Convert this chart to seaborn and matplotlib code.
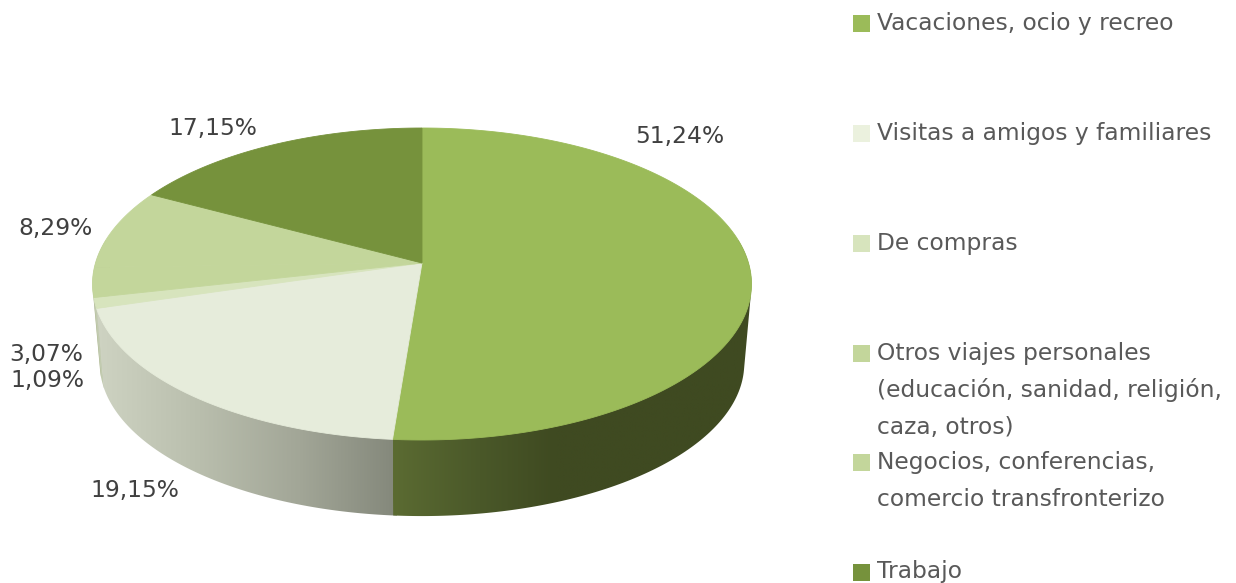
import numpy as np
import matplotlib
matplotlib.use("Agg")
import matplotlib.pyplot as plt
import matplotlib.transforms as mtransforms
from matplotlib.colors import to_rgb
from matplotlib.patches import Polygon, Rectangle
from matplotlib.path import Path
import seaborn as sns

# ---- data ----
categories = ["Vacaciones, ocio y recreo", "Visitas a amigos y familiares", "De compras",
              "Otros viajes personales", "Negocios, conferencias", "Trabajo"]
values = [51.24, 19.15, 1.09, 3.07, 8.29, 17.15]
value_labels = ["51,24%", "19,15%", "1,09%", "3,07%", "8,29%", "17,15%"]
legend_lines = [["Vacaciones, ocio y recreo"],
                ["Visitas a amigos y familiares"],
                ["De compras"],
                ["Otros viajes personales", "(educación, sanidad, religión,", "caza, otros)"],
                ["Negocios, conferencias,", "comercio transfronterizo"],
                ["Trabajo"]]
slice_colors = ["#9BBB59", "#E6ECDB", "#D7E4BD", "#C3D69B", "#C3D69B", "#76923C"]
legend_colors = ["#9BBB59", "#EBF1DE", "#D7E4BD", "#C3D69B", "#C3D69B", "#76923C"]

# ---- layout (pixels of the 1236x583 canvas) ----
CX, CY, RY = 422.0, 284.0, 156.0
RX, PERSP, OFFSET = 326.5, 21.0 / 156.0, 21.0
BOTTOM_SCALE, BOTTOM_CY = 0.978, 363.5
label_xy = [(680, 137), (135, 491), (47, 380), (46, 355), (55, 228), (213, 128)]
legend_baselines = [[30], [140], [250], [360, 397, 434], [469, 506], [578]]
legend_box_tops = [15, 125, 235, 345, 454, 564]
FONT = ["DejaVu Sans"]
TEXT_SIZE = 16.8
wall_stops = [
    [(393, "#5B6B32"), (480, "#4A5829"), (555, "#3F4A21"), (752, "#3F4A21")],
    [(92, "#CFD4C3"), (200, "#B9BEAD"), (300, "#A2A697"), (393, "#85897C"), (398, "#85897C")],
    [(92, "#C2CBB0"), (110, "#C2CBB0")],
    [(92, "#ABB58C"), (110, "#ABB58C")],
    [(92, "#ABB58C"), (110, "#ABB58C")],
    [(92, "#ABB58C"), (110, "#ABB58C")],
]

sns.set_theme(style="white")
plt.rcParams["font.family"] = FONT
palette = sns.color_palette(slice_colors)


class PerspectiveDisk(mtransforms.Transform):
    """Maps the unit disk of a pie onto the tilted ellipse seen in perspective."""
    input_dims = output_dims = 2

    def __init__(self, lower=False):
        super().__init__()
        self.lower = lower

    def transform_non_affine(self, values):
        v = np.asarray(values, dtype=float)
        d = 1 + PERSP * v[:, 1]
        x = RX * v[:, 0] / d
        y = (RY * v[:, 1] + OFFSET) / d
        if self.lower:
            return np.column_stack([CX + BOTTOM_SCALE * x, BOTTOM_CY - BOTTOM_SCALE * y])
        return np.column_stack([CX + x, CY - y])

    def transform_path_non_affine(self, path):
        # sample the wedge's curves so that the projection stays smooth
        pts = []
        for seg, code in path.iter_bezier():
            if code == Path.MOVETO:
                pts.append(seg.control_points[0][None, :])
            else:
                pts.append(seg(np.linspace(0, 1, 25)[1:]))
        pts = np.vstack(pts)
        return Path(self.transform_non_affine(np.vstack([pts, pts[:1]])))


def convex_hull(points):
    pts = sorted(map(tuple, points))

    def half(seq):
        out = []
        for p in seq:
            while len(out) >= 2 and ((out[-1][0] - out[-2][0]) * (p[1] - out[-2][1])
                                     - (out[-1][1] - out[-2][1]) * (p[0] - out[-2][0])) <= 0:
                out.pop()
            out.append(p)
        return out[:-1]

    return np.array(half(pts) + half(pts[::-1]))


fig = plt.figure(figsize=(12.36, 5.83), dpi=100, facecolor="white")
ax = fig.add_axes([0, 0, 1, 1])

wedges, _ = ax.pie(values, colors=palette, startangle=90, counterclock=False,
                   wedgeprops={"linewidth": 0.6})
ax.set_aspect("auto")
ax.set_xlim(0, 1236)
ax.set_ylim(583, 0)
ax.axis("off")

top_map, bottom_map = PerspectiveDisk(False), PerspectiveDisk(True)

# side wall: one gradient-filled band per slice, the front slices on top
for i in range(len(values) - 1, -1, -1):
    w = wedges[i]
    extra = 0.6 if i > 0 else 0.0
    theta = np.radians(np.linspace(w.theta1, w.theta2 + extra, 240))
    ring = np.column_stack([np.cos(theta), np.sin(theta)])
    outline = convex_hull(np.vstack([top_map.transform_non_affine(ring),
                                     bottom_map.transform_non_affine(ring)]))
    band = Polygon(outline, closed=True, transform=ax.transData, facecolor="none", edgecolor="none")
    ax.add_patch(band)
    xs, cols = zip(*wall_stops[i])
    rgb = np.array([to_rgb(c) for c in cols])
    grid = np.linspace(xs[0], xs[-1], 256)
    grad = np.column_stack([np.interp(grid, xs, rgb[:, k]) for k in range(3)])[None, :, :]
    im = ax.imshow(grad, extent=(xs[0], xs[-1], 530, 240), aspect="auto",
                   interpolation="bilinear", zorder=1)
    im.set_clip_path(band)

ax.set_aspect("auto")
ax.set_xlim(0, 1236)
ax.set_ylim(583, 0)

# top face: the pie's own wedges, projected
for w, c in zip(wedges, palette):
    w.set_transform(top_map + ax.transData)
    w.set_edgecolor(c)
    w.set_zorder(2)

for txt, (x, y) in zip(value_labels, label_xy):
    ax.text(x, y, txt, ha="center", va="center", fontsize=TEXT_SIZE, color="#404040", zorder=3)

for color, lines, bases, top in zip(legend_colors, legend_lines, legend_baselines, legend_box_tops):
    ax.add_patch(Rectangle((853, top), 17, 17, facecolor=color, edgecolor="none", zorder=3))
    for line, base in zip(lines, bases):
        ax.text(877, base, line, ha="left", va="baseline", fontsize=TEXT_SIZE, color="#595959", zorder=3)

fig.savefig("out.png", dpi=100, facecolor="white")
